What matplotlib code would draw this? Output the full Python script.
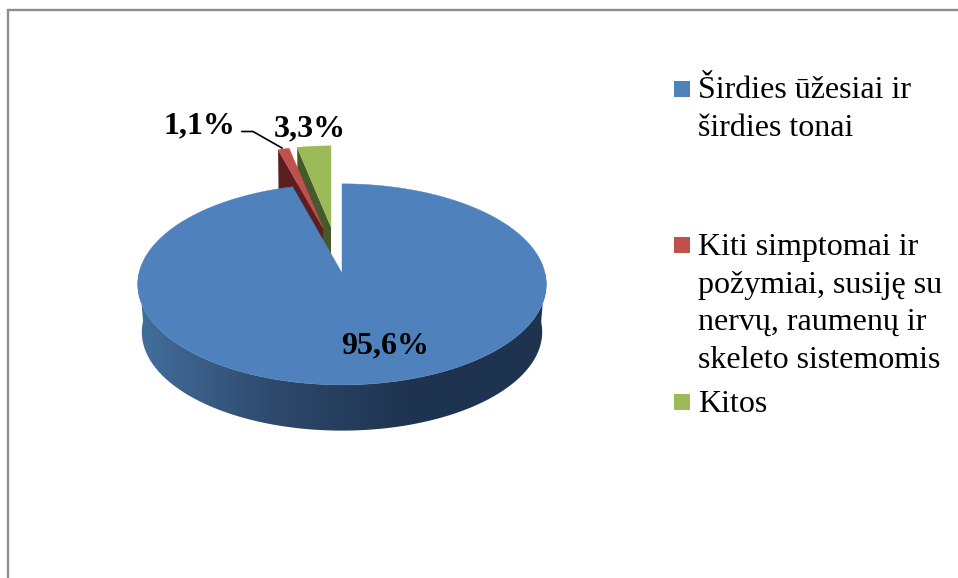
import numpy as np
import matplotlib
matplotlib.use('Agg')
import matplotlib.pyplot as plt
from matplotlib.colors import LinearSegmentedColormap
from matplotlib.patches import Polygon, Rectangle

# data
categories = ['Širdies ūžesiai ir\nširdies tonai',
              'Kiti simptomai ir\npožymiai, susiję su\nnervų, raumenų ir\nskeleto sistemomis',
              'Kitos']
values = [95.6, 1.1, 3.3]
value_labels = ['95,6%', '1,1%', '3,3%']

top_colors = ['#4f81bd', '#c0504d', '#9bbb59']
side_colors = [None, '#5a1f1e', '#47582a']

plt.rcParams['font.family'] = ['Liberation Serif', 'DejaVu Serif']

fig = plt.figure(figsize=(9.58, 5.78), dpi=100)
ax = fig.add_axes([0, 0, 1, 1])
ax.set_xlim(0, 958)
ax.set_ylim(578, 0)
ax.axis('off')

# chart frame, only top and left are in the crop
ax.plot([8.5, 8.5, 958], [578, 9.5, 9.5], color='#8c8c8c', lw=1.7, solid_joinstyle='miter')

R = 203
RY = 100.5
PERSP = 0.113


def rim(ax_x, ax_y, t, scale=1.0):
    # point on the pie edge, t in degrees clockwise from the top
    t = np.radians(t)
    p = 1 - PERSP * np.cos(t)
    return ax_x + R * scale * np.sin(t) * p, ax_y - RY * scale * np.cos(t) * p


# slice angles, clockwise from 12 o'clock
ends = np.cumsum(values) / sum(values) * 360
starts = np.r_[0, ends[:-1]]

# small slices are pulled out, green goes under red
apex = {1: (323, 228), 2: (331, 227)}
for i in [2, 1]:
    ax_x, ax_y = apex[i]
    t = np.linspace(starts[i], ends[i], 30)
    x, y = rim(ax_x, ax_y, t, 0.91)
    bx, by = rim(ax_x, ax_y + 39, t, 0.90)
    # cut face shows on the left of each slice
    ax.add_patch(Polygon(np.c_[np.r_[ax_x, x[0], bx[0], ax_x], np.r_[ax_y, y[0], by[0], ax_y + 39]],
                         color=side_colors[i], lw=0))
    ax.add_patch(Polygon(np.c_[np.r_[ax_x, x], np.r_[ax_y, y]], color=top_colors[i], lw=0.3))

# main slice side wall with gradient
cx, cy = 342, 273
t = np.linspace(starts[0], ends[0], 400)
x, y = rim(cx, cy, t)
bx, by = rim(cx, cy + 48, t, 0.98)
front = (t > 90) & (t < 270)
wall = Polygon(np.c_[np.r_[x[front], bx[front][::-1]], np.r_[y[front], by[front][::-1]]],
               transform=ax.transData, fc='none', ec='none')
ax.add_patch(wall)
cmap = LinearSegmentedColormap.from_list('wall', ['#1e334f', '#1e334f', '#2f4a6e', '#44719f'])
grad = np.linspace(0, 1, 256)[::-1].reshape(1, -1)
im = ax.imshow(grad, cmap=cmap, extent=[130, 550, 440, 270], aspect='auto', zorder=2)
im.set_clip_path(wall)
ax.set_xlim(0, 958)
ax.set_ylim(578, 0)

# main slice top
ax.add_patch(Polygon(np.c_[np.r_[cx, x], np.r_[cy, y]], color=top_colors[0], lw=0.3, zorder=3))

# value labels
label_pos = [(385.5, 353), (199.5, 133), (309.5, 136)]
for s, (lx, ly) in zip(value_labels, label_pos):
    ax.text(lx, ly, s, fontsize=23, fontweight='bold', ha='center', va='baseline', color='black', zorder=5)

# leader line for 1,1%
ax.plot([242, 253, 282], [131.5, 131.5, 148], color='black', lw=1.2, zorder=5)

# legend
key_y = [81, 237, 394]
first_base = [98, 255, 412]
for name, col, ky, base in zip(categories, top_colors, key_y, first_base):
    ax.add_patch(Rectangle((674, ky), 16, 16, fc=col, ec='none'))
    for n, line in enumerate(name.split('\n')):
        ax.text(698, base + n * 37.5, line, fontsize=23, ha='left', va='baseline', color='black')

fig.savefig('out.png', dpi=100)
